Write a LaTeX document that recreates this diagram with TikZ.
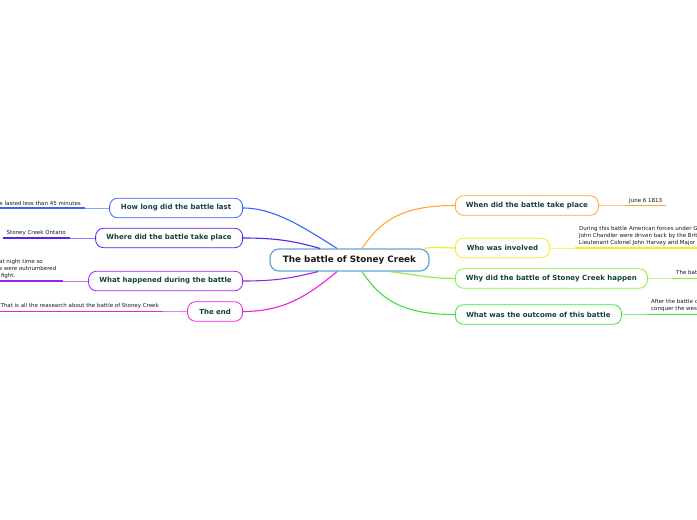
\documentclass[tikz,border=0pt]{standalone}
\usepackage{fontspec}
\setmainfont{DejaVu Sans}

\definecolor{rootblue}{HTML}{5AA8DC}
\definecolor{topictext}{HTML}{12433A}
\definecolor{whencol}{HTML}{FFA833}
\definecolor{whocol}{HTML}{EEEE22}
\definecolor{whycol}{HTML}{8CF03C}
\definecolor{outcol}{HTML}{3EE03E}
\definecolor{howcol}{HTML}{3366FF}
\definecolor{wherecol}{HTML}{5522EE}
\definecolor{happcol}{HTML}{A020F0}
\definecolor{endcol}{HTML}{F020E0}

\begin{document}
\begin{tikzpicture}[x=1pt,y=-1pt,
	root/.style={draw=rootblue, line width=1.2pt, rounded corners=9pt, fill=white, minimum width=159pt, minimum height=22pt, font=\bfseries\fontsize{8.8}{10}\selectfont, text=black!90},
	topic/.style={draw, line width=0.8pt, rounded corners=8pt, fill=white, minimum height=19.5pt, inner xsep=0pt, font=\bfseries\fontsize{7}{8}\selectfont, text=topictext},
	sub/.style={inner xsep=4pt, inner ysep=2.2pt, align=left, font=\fontsize{5.5}{7}\selectfont, text=black!90},
	branch/.style={line width=1.1pt},
	under/.style={line width=1.5pt},
	link/.style={line width=0.6pt}]

		\fill[white] (0,0) rectangle (697,520);
		\useasboundingbox (0,0) rectangle (697,520);

		\node[root] (root) at (349.5,260) {The battle of Stoney Creek};

		\node[topic, draw=whencol, minimum width=143pt, anchor=west] (when) at (455,205.5) {When did the battle take place};
		\node[topic, draw=whocol, minimum width=94pt, anchor=west] (who) at (455,248) {Who was involved};
		\node[topic, draw=whycol, minimum width=192pt, anchor=west] (why) at (455,278.5) {Why did the battle of Stoney Creek happen};
		\node[topic, draw=outcol, minimum width=166pt, anchor=west] (outcome) at (455,314.5) {What was the outcome of this battle};

		\node[topic, draw=howcol, minimum width=133pt, anchor=east] (howlong) at (243,208) {How long did the battle last};
		\node[topic, draw=wherecol, minimum width=147pt, anchor=east] (where) at (243,238) {Where did the battle take place};
		\node[topic, draw=happcol, minimum width=154pt, anchor=east] (happened) at (243,281) {What happened during the battle};
		\node[topic, draw=endcol, minimum width=55pt, anchor=east] (theend) at (243,311.5) {The end};

		\draw[branch, whencol] ([xshift=12.5pt]root.north) .. controls +(20,-30) and +(-50,0) .. (when.west);
		\draw[branch, whocol] ([xshift=75pt]root.north) .. controls +(10,-2) and +(-15,0) .. (who.west);
		\draw[branch, whycol] ([xshift=40.5pt]root.south) .. controls +(25,3) and +(-25,0) .. (why.west);
		\draw[branch, outcol] ([xshift=12.5pt]root.south) .. controls +(20,30) and +(-50,0) .. (outcome.west);
		\draw[branch, howcol] ([xshift=-12.5pt]root.north) .. controls +(-32,-20) and +(32,0) .. (howlong.east);
		\draw[branch, wherecol] ([xshift=-29.5pt]root.north) .. controls +(-25,-7) and +(35,0) .. (where.east);
		\draw[branch, happcol] ([xshift=-31.5pt]root.south) .. controls +(-25,6) and +(35,0) .. (happened.east);
		\draw[branch, endcol] ([xshift=-12.5pt]root.south) .. controls +(-30,25) and +(40,0) .. (theend.east);

		\node[sub, anchor=south west] (whenSub) at (625,205.5) {June 6 1813};
		\node[sub, anchor=south west] (whoSub) at (575,248) {During this battle American forces under General\\John Chandler were driven back by the British under\\Lieutenant Colonel John Harvey and Major General John Vincent};
		\node[sub, anchor=south west] (whySub) at (672,278.5) {The battle happened because};
		\node[sub, anchor=south west] (outcomeSub) at (647,314.5) {After the battle came an end to the American plan to\\conquer the western part of Upper Canada.};

		\node[sub, anchor=south east] (howSub) at (85,208) {The battle lasted less than 45 minutes};
		\node[sub, anchor=south east] (whereSub) at (70,238) {Stoney Creek Ontario};
		\node[sub, anchor=south west] (happenedSub) at (-62,281) {The British attacked at night time so\\the American soldiers were outnumbered\\and were not able to fight.};
		\coordinate (happenedEnd) at (63,281);
		\node[sub, anchor=south east] (endSub) at (163,311.5) {That is all the reasearch about the battle of Stoney Creek};

		\draw[link, whencol!60] (when.east) -- (whenSub.south west);
		\draw[under, whencol] (whenSub.south west) -- (whenSub.south east);
		\draw[link, whocol!60] (who.east) -- (whoSub.south west);
		\draw[under, whocol] (whoSub.south west) -- (whoSub.south east);
		\draw[link, whycol!60] (why.east) -- (whySub.south west);
		\draw[under, whycol] (whySub.south west) -- (whySub.south east);
		\draw[link, outcol!60] (outcome.east) -- (outcomeSub.south west);
		\draw[under, outcol] (outcomeSub.south west) -- (outcomeSub.south east);

		\draw[link, howcol!60] (howlong.west) -- (howSub.south east);
		\draw[under, howcol] (howSub.south west) -- (howSub.south east);
		\draw[link, wherecol!60] (where.west) -- (whereSub.south east);
		\draw[under, wherecol] (whereSub.south west) -- (whereSub.south east);
		\draw[link, happcol!60] (happened.west) -- (happenedEnd);
		\draw[under, happcol] (happenedSub.south west) -- (happenedEnd);
		\draw[link, endcol!60] (theend.west) -- (endSub.south east);
		\draw[under, endcol] (endSub.south west) -- (endSub.south east);

	\end{tikzpicture}
\end{document}
